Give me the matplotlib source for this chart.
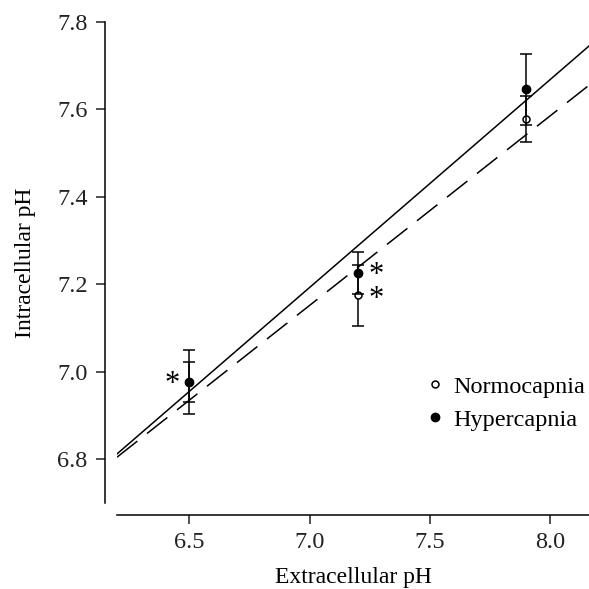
import numpy as np
import matplotlib
matplotlib.use("Agg")
import matplotlib.pyplot as plt

# values
ph_ext = [6.5, 7.2, 7.9]
normo_mean = [6.977, 7.175, 7.578]
normo_err = [0.045, 0.070, 0.053]
hyper_mean = [6.977, 7.226, 7.646]
hyper_err = [0.073, 0.047, 0.081]

# regression lines (slope, intercept)
hyper_fit = [0.476, 3.861]
normo_fit = [0.434, 4.114]

# significance stars (the pair at 7.2 is one stacked label)
star_x = [6.43, 7.275]
star_y = [6.972, 7.193]
star_txt = ['*', '*\n*']

plt.rcParams['font.family'] = ['Liberation Serif', 'DejaVu Serif']

fig = plt.figure(figsize=(5.89, 5.89), dpi=100)
ax = fig.add_axes([0.1986, 0.146, 0.8014, 0.8166])

xx = np.array([6.2, 8.16])
ax.plot(xx, np.polyval(hyper_fit, xx), color='black', lw=1.1)
ax.plot(xx, np.polyval(normo_fit, xx), color='black', lw=1.1, dashes=(17, 8))

ax.errorbar(ph_ext, normo_mean, yerr=normo_err, fmt='o', color='black',
            mfc='white', mec='black', ms=5, mew=1.1, capsize=4, elinewidth=1.1,
            capthick=1.1, label='Normocapnia', zorder=3)
ax.errorbar(ph_ext, hyper_mean, yerr=hyper_err, fmt='o', color='black',
            ms=6, capsize=4, elinewidth=1.1, capthick=1.1,
            label='Hypercapnia', zorder=4)

for sx, sy, st in zip(star_x, star_y, star_txt):
    ax.text(sx, sy, st, fontsize=22, ha='center', va='center', linespacing=0.75)

ax.set_xlim(6.2, 8.16)
ax.set_ylim(6.7, 7.8)
ax.set_xticks([6.5, 7.0, 7.5, 8.0])
ax.set_xticklabels(['6.5', '7.0', '7.5', '8.0'])
ax.set_yticks([6.8, 7.0, 7.2, 7.4, 7.6, 7.8])
ax.set_yticklabels(['6.8', '7.0', '7.2', '7.4', '7.6', '7.8'])

for s in ['top', 'right']:
    ax.spines[s].set_visible(False)
for s in ['left', 'bottom']:
    ax.spines[s].set_position(('outward', 8.6))
    ax.spines[s].set_linewidth(1.1)
ax.tick_params(labelsize=17.5, width=1.1, length=6.5, pad=6, colors='#222222')

ax.set_xlabel('Extracellular pH', fontsize=17, labelpad=10)
ax.set_ylabel('Intracellular pH', fontsize=17, labelpad=15)

handles, labels = ax.get_legend_handles_labels()
handles = [h[0] for h in handles]
ax.legend(handles, labels, loc='lower right', bbox_to_anchor=(1.012, 0.13),
          frameon=False, fontsize=17.5, handletextpad=0.25, handlelength=1.0,
          labelspacing=0.45, borderaxespad=0.0)

fig.savefig('out.png', dpi=100)
